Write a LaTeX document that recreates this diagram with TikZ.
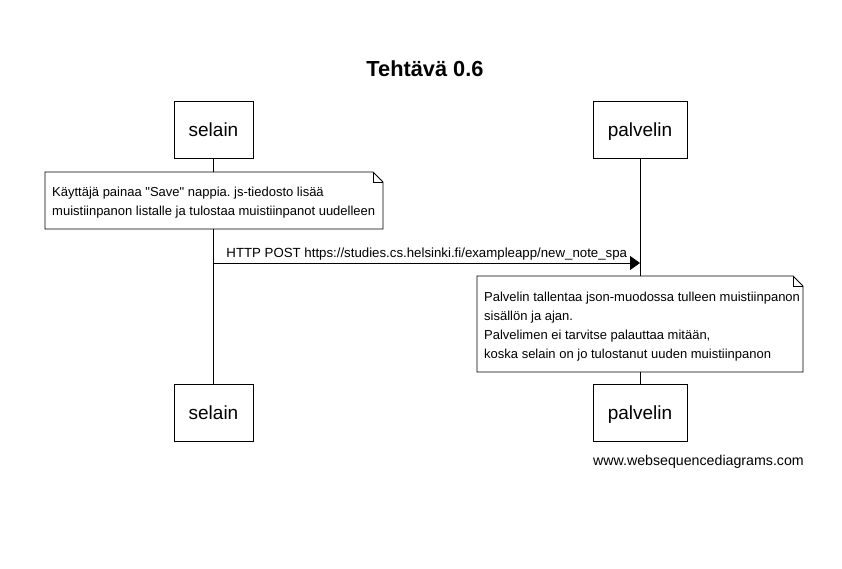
\documentclass[tikz,border=0pt]{standalone}
\usepackage{fontspec}
\setmainfont{Liberation Sans}[Ligatures=TeXOff]
\usetikzlibrary{arrows.meta}
\frenchspacing
\begin{document}
\begin{tikzpicture}[x=1pt,y=-1pt,
  actor/.style={draw,line width=0.9pt,minimum width=79pt,minimum height=57pt,inner sep=0pt,text height=16pt,text depth=2pt,font=\fontsize{19}{19}\selectfont},
  actorw/.style={actor,minimum width=94pt},
  notetext/.style={align=left,anchor=north west,inner sep=0pt,font=\fontsize{13}{19.2}\selectfont},
  noteline/.style={line width=0.8pt},
  life/.style={line width=0.8pt},
  msg/.style={line width=0.8pt,-{Triangle[length=10pt,width=14pt]}}]
\useasboundingbox (0,0) rectangle (842,569);
\node[font=\bfseries\fontsize{21.8}{21.8}\selectfont] (title) at (425,69) {Tehtävä 0.6};
\node[actor] (s1) at (213.5,129.5) {selain};
\node[actorw] (p1) at (640,129.5) {palvelin};
\node[actor] (s2) at (213.5,412.5) {selain};
\node[actorw] (p2) at (640,412.5) {palvelin};
% note 1
\coordinate (n1nw) at (45,172);
\coordinate (n1se) at (383,229);
\node[notetext] (n1) at (52,186.5) {Käyttäjä painaa "Save" nappia. js-tiedosto lisää\\muistiinpanon listalle ja tulostaa muistiinpanot uudelleen};
\draw[noteline] (n1nw) -- (373,172) -- (383,182) -- (n1se) -- (45,229) -- cycle;
\draw[noteline] (373,172) -- (373,182) -- (383,182);
% note 2
\coordinate (n2nw) at (477,276);
\coordinate (n2se) at (803,372);
\node[notetext] (n2) at (484,291.5) {Palvelin tallentaa json-muodossa tulleen muistiinpanon\\sisällön ja ajan.\\Palvelimen ei tarvitse palauttaa mitään,\\koska selain on jo tulostanut uuden muistiinpanon};
\draw[noteline] (n2nw) -- (793,276) -- (803,286) -- (n2se) -- (477,372) -- cycle;
\draw[noteline] (793,276) -- (793,286) -- (803,286);
% lifelines
\draw[life] (s1.south) -- (s1.south |- n1nw);
\draw[life] (s1.south |- n1se) -- (s2.north);
\draw[life] (p1.south) -- (p1.south |- n2nw);
\draw[life] (p1.south |- n2se) -- (p2.north);
% message
\coordinate (ma) at (213.5,263);
\coordinate (mb) at (640,263);
\draw[msg] (ma) -- node[above,pos=0.5,inner sep=2.5pt,font=\fontsize{13.25}{13.25}\selectfont] (ml) {HTTP POST https://studies.cs.helsinki.fi/exampleapp/new\_note\_spa} (mb);
\node[anchor=east,inner sep=0pt,font=\fontsize{14.2}{14.2}\selectfont] (wsd) at (804,462) {www.websequencediagrams.com};
\end{tikzpicture}
\end{document}
